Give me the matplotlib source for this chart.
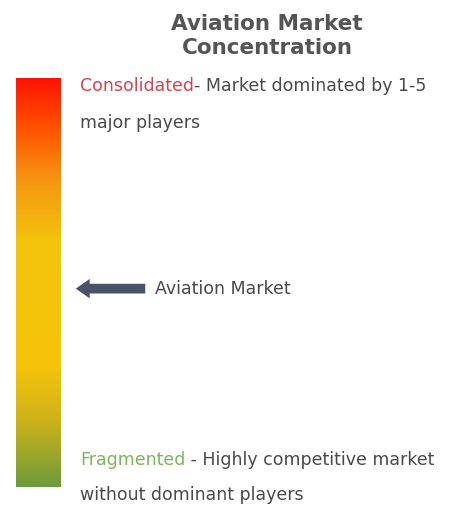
import numpy as np
import matplotlib
matplotlib.use("Agg")
import matplotlib.pyplot as plt
from matplotlib.colors import LinearSegmentedColormap

# gradient stops, top (consolidated) -> bottom (fragmented)
stop_pos = [0.0, 0.12, 0.25, 0.40, 0.70, 0.84, 1.0]
stop_colors = ["#ff1200", "#ff5200", "#f59612", "#f2c40c", "#f6c40a", "#cdb21a", "#6c9c3c"]

title = "Aviation Market\nConcentration"
top_label = "Consolidated"
top_text = ["- Market dominated by 1-5", "major players"]
bottom_label = "Fragmented"
bottom_text = [" - Highly competitive market", "without dominant players"]
market_name = "Aviation Market"
market_pos = 0.515  # fraction from top of the bar

W, H = 451, 509
fig = plt.figure(figsize=(W / 100, H / 100), dpi=100)
ax = fig.add_axes([0, 0, 1, 1])
ax.set_xlim(0, W)
ax.set_ylim(H, 0)
ax.axis("off")

cmap = LinearSegmentedColormap.from_list("conc", list(zip(stop_pos, stop_colors)))
bar_top, bar_bot = 78, 487
grad = np.linspace(0, 1, 256).reshape(-1, 1)
ax.imshow(grad, cmap=cmap, aspect="auto", extent=[16, 61, bar_bot, bar_top], interpolation="bilinear")

fs = 12.5
txt_col = "#4a4a4a"
ax.text(267, 36, title, ha="center", va="center", fontsize=15.5, fontweight="bold",
        color="#555555", linespacing=1.3)

t = ax.text(80, 86, top_label, ha="left", va="center", fontsize=fs, color="#d9434b")
fig.canvas.draw()
bb = t.get_window_extent()
ax.annotate(top_text[0], xy=(bb.x1, H - 86), xycoords="figure pixels", ha="left", va="center",
            fontsize=fs, color=txt_col)
ax.text(80, 123, top_text[1], ha="left", va="center", fontsize=fs, color=txt_col)

t2 = ax.text(80, 460, bottom_label, ha="left", va="center", fontsize=fs, color="#7cb65a")
fig.canvas.draw()
bb2 = t2.get_window_extent()
ax.annotate(bottom_text[0], xy=(bb2.x1, H - 460), xycoords="figure pixels", ha="left", va="center",
            fontsize=fs, color=txt_col)
ax.text(80, 495, bottom_text[1], ha="left", va="center", fontsize=fs, color=txt_col)

ay = bar_top + market_pos * (bar_bot - bar_top)
ax.annotate("", xy=(73, ay), xytext=(148, ay),
            arrowprops=dict(arrowstyle="simple,head_length=1.0,head_width=1.4,tail_width=0.7",
                            color="#48536a", lw=0))
ax.text(155, ay, market_name, ha="left", va="center", fontsize=fs, color=txt_col)

fig.savefig("out.png", dpi=100, facecolor="white")
